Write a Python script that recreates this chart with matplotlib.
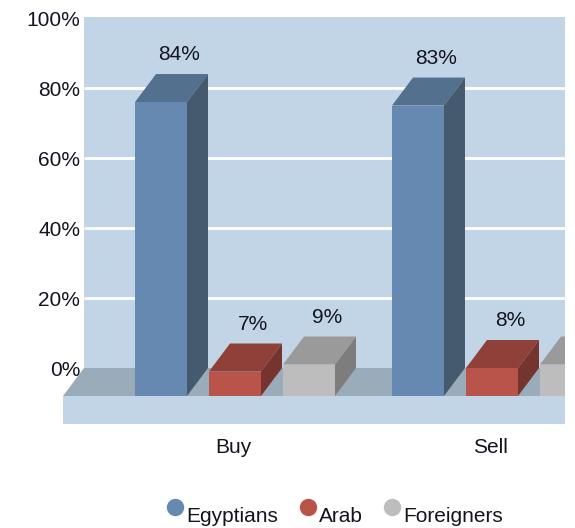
import matplotlib
matplotlib.use('Agg')
from matplotlib import pyplot as plt
from matplotlib.legend_handler import HandlerLine2D
from matplotlib.patches import Polygon, Rectangle
from matplotlib.transforms import Affine2D

plt.rcParams['font.family'] = ['Liberation Sans', 'DejaVu Sans']

categories = ['Buy', 'Sell']
series_names = ['Egyptians', 'Arab', 'Foreigners']
egyptians = [84, 83]
arab = [7, 8]
foreigners = [9, 9]
y_ticks = [0, 20, 40, 60, 80, 100]
y_labels = ['0%', '20%', '40%', '60%', '80%', '100%']

# front, top, side
blue = ['#6589B0', '#53708F', '#45596F']
red = ['#B8544A', '#8F4038', '#75342E']
grey = ['#BDBDBD', '#9A9A9A', '#7D7D7D']
wall = '#C1D5E6'
floor = '#9AABB9'
text_col = '#14141F'

# 3d depth, in data units
dx = 21 / 257
dy = 8
bar_w = 52 / 257
offsets = [-100 / 257, -26 / 257, 48 / 257]


class RaisedMarker(HandlerLine2D):
    # legend dots sit a little above the text
    def create_artists(self, legend, orig, xd, yd, w, h, fs, trans):
        return super().create_artists(legend, orig, xd, yd, w, h, fs, trans + Affine2D().translate(0, 7))


fig = plt.figure(figsize=(5.75, 5.28), dpi=100)
ax = fig.add_axes([63 / 575, (528 - 424) / 528, 502 / 575, 407 / 528])
ax.set_xlim(-172 / 257, 330 / 257)
ax.set_ylim(-16, 100.3)
for s in ax.spines.values():
    s.set_visible(False)

x0, x1 = ax.get_xlim()
ax.add_patch(Rectangle((x0 + dx, 0), x1 - x0, 100.3, color=wall, lw=0, zorder=1))
ax.hlines(y_ticks[1:-1], x0 + dx, x1, color='white', lw=2, zorder=2)
ax.add_patch(Polygon([(x0, -dy), (x0 + dx, 0), (x1, 0), (x1, -dy)], color=floor, lw=0, zorder=3))
ax.add_patch(Rectangle((x0, -16), x1 - x0, 8, color=wall, lw=0, zorder=3))


def bar3d(x, v, cols, z):
    b = -dy
    t = v - dy
    ax.add_patch(Rectangle((x, b), bar_w, v, color=cols[0], lw=0, zorder=z))
    ax.add_patch(Polygon([(x, t), (x + dx, t + dy), (x + bar_w + dx, t + dy), (x + bar_w, t)],
                         color=cols[1], lw=0, zorder=z))
    ax.add_patch(Polygon([(x + bar_w, b), (x + bar_w + dx, b + dy), (x + bar_w + dx, t + dy), (x + bar_w, t)],
                         color=cols[2], lw=0, zorder=z))


values = [egyptians, arab, foreigners]
colors = [blue, red, grey]
for s, vals in enumerate(values):
    for c, v in enumerate(vals):
        x = c + offsets[s]
        bar3d(x, v, colors[s], 4 + s)
        if x + bar_w < x1:
            ax.text(x + bar_w / 2 + 18 / 257, v + 5.5, str(v) + '%', ha='center', va='center',
                    fontsize=15, color=text_col, zorder=8)

ax.set_yticks(y_ticks)
ax.set_yticklabels(y_labels, fontsize=15, color=text_col, zorder=9)
ax.tick_params(axis='y', length=0, pad=-12.5)
ax.set_xticks([c - 2 / 257 for c in range(len(categories))])
ax.set_xticklabels(categories, fontsize=15, color=text_col)
ax.tick_params(axis='x', length=0, pad=10)

handles = [plt.Line2D([], [], ls='', marker='o', ms=11.5, mfc=col[0], mec=col[0]) for col in colors]
ax.legend(handles, series_names, loc='lower left', bbox_to_anchor=(0.182, -0.25), ncol=3, frameon=False,
          fontsize=15, labelcolor=text_col, handletextpad=-0.45, columnspacing=0.4, borderpad=0, borderaxespad=0,
          handler_map={plt.Line2D: RaisedMarker()})

fig.savefig('out.png', dpi=100)
